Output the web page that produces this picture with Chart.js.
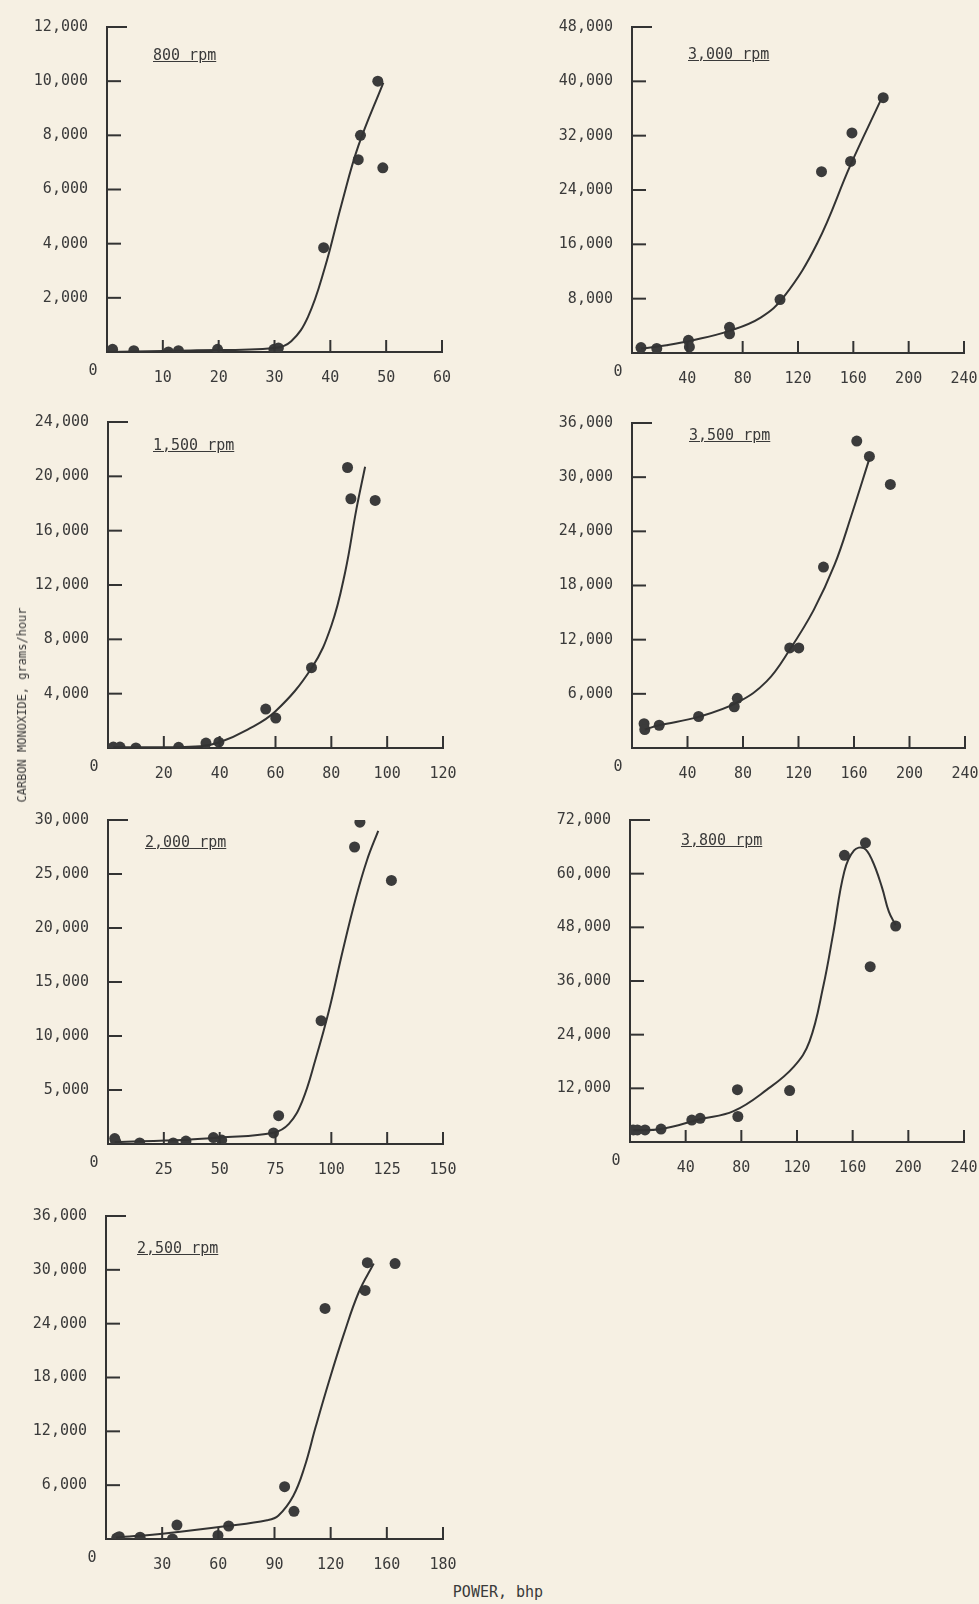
<!DOCTYPE html>
<html>
<head>
<meta charset="utf-8">
<script src="https://cdn.jsdelivr.net/npm/chart.js@4.4.1/dist/chart.umd.min.js"></script>
<style>
  body { margin: 0; background: #f6f0e3; width: 979px; height: 1604px; position: relative; overflow: hidden;
         font-family: "DejaVu Sans Mono", monospace; color: #3a3a3a; }
  canvas { position: absolute; }
  .rpm { position: absolute; font-size: 15px; line-height: 16px; text-decoration: underline; white-space: pre; }
  .ytitle { position: absolute; left: 22px; top: 705px; font-size: 12px; white-space: nowrap;
            transform: translate(-50%, -50%) rotate(-90deg); }
  .xtitle { position: absolute; left: 498px; top: 1592px; font-size: 15px; white-space: nowrap;
            transform: translate(-50%, -50%); }
</style>
</head>
<body>
<canvas id="c800"></canvas>
<canvas id="c3000"></canvas>
<canvas id="c1500"></canvas>
<canvas id="c3500"></canvas>
<canvas id="c2000"></canvas>
<canvas id="c3800"></canvas>
<canvas id="c2500"></canvas>
<div class="rpm" style="left:153px;top:47px">800 rpm</div>
<div class="rpm" style="left:688px;top:46px">3,000 rpm</div>
<div class="rpm" style="left:153px;top:437px">1,500 rpm</div>
<div class="rpm" style="left:689px;top:427px">3,500 rpm</div>
<div class="rpm" style="left:145px;top:834px">2,000 rpm</div>
<div class="rpm" style="left:681px;top:832px">3,800 rpm</div>
<div class="rpm" style="left:137px;top:1240px">2,500 rpm</div>
<div class="ytitle">CARBON MONOXIDE, grams/hour</div>
<div class="xtitle">POWER, bhp</div>
<script>
const rpm800Power = [1, 4.8, 11, 12.8, 19.8, 29.9, 30.7, 38.8, 45.0, 45.4, 48.5, 49.4];
const rpm800CO = [100, 50, 0, 50, 100, 100, 150, 3850, 7100, 8000, 10000, 6800];
const rpm800FitPower = [0, 15, 30, 33, 36, 39, 42, 45, 49.5];
const rpm800FitCO = [0, 60, 150, 400, 1300, 3100, 5450, 7600, 9950];

const rpm3000Power = [6.5, 17.9, 40.8, 41.5, 70.5, 70.5, 107, 137, 158, 159, 181.6];
const rpm3000CO = [800, 670, 1870, 900, 3780, 2830, 7860, 26700, 28200, 32400, 37600];
const rpm3000FitPower = [6.5, 25, 44, 71, 93, 110, 134, 158, 180];
const rpm3000FitCO = [650, 1150, 1870, 3300, 5220, 8330, 16200, 27700, 37300];

const rpm1500Power = [1.9, 4.3, 10, 25.3, 35.1, 39.7, 56.5, 60.1, 72.9, 85.8, 87, 95.7];
const rpm1500CO = [70, 70, 0, 50, 360, 430, 2870, 2200, 5910, 20650, 18350, 18230];
const rpm1500FitPower = [1.9, 20, 33, 40, 50, 60, 73, 80, 85, 89, 92.1];
const rpm1500FitCO = [50, 60, 120, 420, 1350, 2700, 5910, 9000, 13000, 17600, 20700];

const rpm3500Power = [8.7, 9.2, 19.6, 48, 73.7, 75.9, 113.7, 120.2, 138, 162, 171.1, 186.2];
const rpm3500CO = [2700, 2050, 2520, 3490, 4570, 5500, 11080, 11080, 20040, 34000, 32300, 29200];
const rpm3500FitPower = [9.2, 19.6, 48, 76, 97, 114, 131, 146, 158, 171];
const rpm3500FitCO = [2050, 2520, 3450, 5050, 7380, 10970, 15300, 20300, 25700, 32000];

const rpm2000Power = [3, 3.5, 14.2, 29.2, 34.9, 47.2, 50.9, 74.1, 76.4, 95.4, 110.4, 112.8, 126.9];
const rpm2000CO = [500, 200, 100, 100, 270, 600, 360, 1020, 2620, 11420, 27500, 29800, 24400];
const rpm2000FitPower = [3, 35, 50, 74, 81, 87, 93, 99, 105, 111, 116, 121];
const rpm2000FitCO = [180, 400, 600, 1050, 1870, 3980, 7890, 12400, 17800, 22800, 26300, 29000];

const rpm3800Power = [2.4, 5.3, 10.8, 22.3, 44.4, 50.4, 77.2, 77.5, 114.7, 154.1, 169.2, 172.6, 190.9];
const rpm3800CO = [2700, 2700, 2700, 2900, 4900, 5300, 11700, 5700, 11500, 64100, 66900, 39200, 48300];
const rpm3800FitPower = [2.4, 22.3, 50.4, 74.4, 98.4, 117.6, 129, 139, 146, 154, 161, 168, 174, 181, 186, 190.9];
const rpm3800FitCO = [2600, 2900, 5100, 6900, 11700, 16800, 22500, 35000, 46600, 60500, 65200, 65700, 63000, 57000, 51500, 48500];

const rpm2500Power = [5.7, 7.1, 18.2, 35.5, 37.9, 59.8, 65.5, 95.4, 100.4, 117, 138.4, 139.6, 154.4];
const rpm2500CO = [100, 250, 200, 0, 1550, 400, 1450, 5830, 3080, 25700, 27700, 30800, 30700];
const rpm2500FitPower = [5.4, 32.5, 64.6, 86, 92, 100, 106, 112, 119, 127, 135, 143];
const rpm2500FitCO = [150, 650, 1450, 2100, 2600, 4800, 8000, 12500, 17500, 22800, 27500, 30700];

// tick labels (the 2,500 rpm panel prints 160 where 150 belongs)
const ticks60 = ['0', '10', '20', '30', '40', '50', '60'];
const ticks120 = ['0', '20', '40', '60', '80', '100', '120'];
const ticks150 = ['0', '25', '50', '75', '100', '125', '150'];
const ticks180 = ['0', '30', '60', '90', '120', '160', '180'];
const ticks240 = ['0', '40', '80', '120', '160', '200', '240'];

const ink = '#333333';
const font = { family: '"DejaVu Sans Mono", monospace', size: 15 };

const innerTicks = {
  id: 'innerTicks',
  afterDraw(chart) {
    const { ctx, chartArea: a, scales: { x, y } } = chart;
    ctx.save();
    ctx.strokeStyle = ink;
    ctx.lineWidth = 2;
    y.ticks.forEach(t => {
      if (t.value === 0) return;
      const py = y.getPixelForValue(t.value);
      ctx.beginPath();
      ctx.moveTo(a.left, py);
      ctx.lineTo(a.left + (t.value === y.max ? 20 : 14), py);
      ctx.stroke();
    });
    x.ticks.forEach(t => {
      if (t.value === 0) return;
      const px = x.getPixelForValue(t.value);
      ctx.beginPath();
      ctx.moveTo(px, a.bottom);
      ctx.lineTo(px, a.bottom - 12);
      ctx.stroke();
    });
    ctx.fillStyle = '#3a3a3a';
    ctx.font = '15px "DejaVu Sans Mono", monospace';
    ctx.textAlign = 'center';
    ctx.textBaseline = 'middle';
    ctx.fillText('0', a.left - 14, a.bottom + 19);
    ctx.restore();
  }
};

function makePanel(id, box, xMax, xStep, xText, yMax, yStep, px, py, fx, fy) {
  const [L, T, R, B] = box;
  const cv = document.getElementById(id);
  cv.width = R - L + 125;
  cv.height = B - T + 52;
  cv.style.left = (L - 100) + 'px';
  cv.style.top = (T - 12) + 'px';
  new Chart(cv, {
    type: 'scatter',
    data: {
      datasets: [
        {
          data: fx.map((v, i) => ({ x: v, y: fy[i] })),
          showLine: true,
          tension: 0.4,
          borderColor: ink,
          borderWidth: 2,
          pointRadius: 0
        },
        {
          data: px.map((v, i) => ({ x: v, y: py[i] })),
          pointRadius: 5.5,
          pointBackgroundColor: '#3b3b3b',
          pointBorderColor: '#3b3b3b',
          pointBorderWidth: 0
        }
      ]
    },
    options: {
      responsive: false,
      animation: false,
      layout: { padding: { top: 12, right: 25, left: 0, bottom: 0 } },
      plugins: { legend: { display: false }, tooltip: { enabled: false } },
      scales: {
        x: {
          type: 'linear', min: 0, max: xMax,
          grid: { display: false },
          border: { color: ink, width: 2 },
          afterFit: s => { s.height = 40; },
          ticks: {
            stepSize: xStep, autoSkip: false, maxRotation: 0, padding: 9,
            color: '#3a3a3a', font: font,
            callback: (v) => v === 0 ? '' : xText[Math.round(v / xStep)]
          }
        },
        y: {
          min: 0, max: yMax,
          grid: { display: false },
          border: { color: ink, width: 2 },
          afterFit: s => { s.width = 100; },
          ticks: {
            stepSize: yStep, padding: 11, color: '#3a3a3a', font: font,
            callback: (v) => v === 0 ? '' : v.toLocaleString('en-US')
          }
        }
      }
    },
    plugins: [innerTicks]
  });
}

makePanel('c800', [107, 19, 442, 352], 60, 10, ticks60, 12000, 2000,
  rpm800Power, rpm800CO, rpm800FitPower, rpm800FitCO);
makePanel('c3000', [632, 19, 964, 353], 240, 40, ticks240, 48000, 8000,
  rpm3000Power, rpm3000CO, rpm3000FitPower, rpm3000FitCO);
makePanel('c1500', [108, 414, 443, 748], 120, 20, ticks120, 24000, 4000,
  rpm1500Power, rpm1500CO, rpm1500FitPower, rpm1500FitCO);
makePanel('c3500', [632, 415, 965, 748], 240, 40, ticks240, 36000, 6000,
  rpm3500Power, rpm3500CO, rpm3500FitPower, rpm3500FitCO);
makePanel('c2000', [108, 812, 443, 1144], 150, 25, ticks150, 30000, 5000,
  rpm2000Power, rpm2000CO, rpm2000FitPower, rpm2000FitCO);
makePanel('c3800', [630, 812, 964, 1142], 240, 40, ticks240, 72000, 12000,
  rpm3800Power, rpm3800CO, rpm3800FitPower, rpm3800FitCO);
makePanel('c2500', [106, 1208, 443, 1539], 180, 30, ticks180, 36000, 6000,
  rpm2500Power, rpm2500CO, rpm2500FitPower, rpm2500FitCO);
</script>
</body>
</html>
